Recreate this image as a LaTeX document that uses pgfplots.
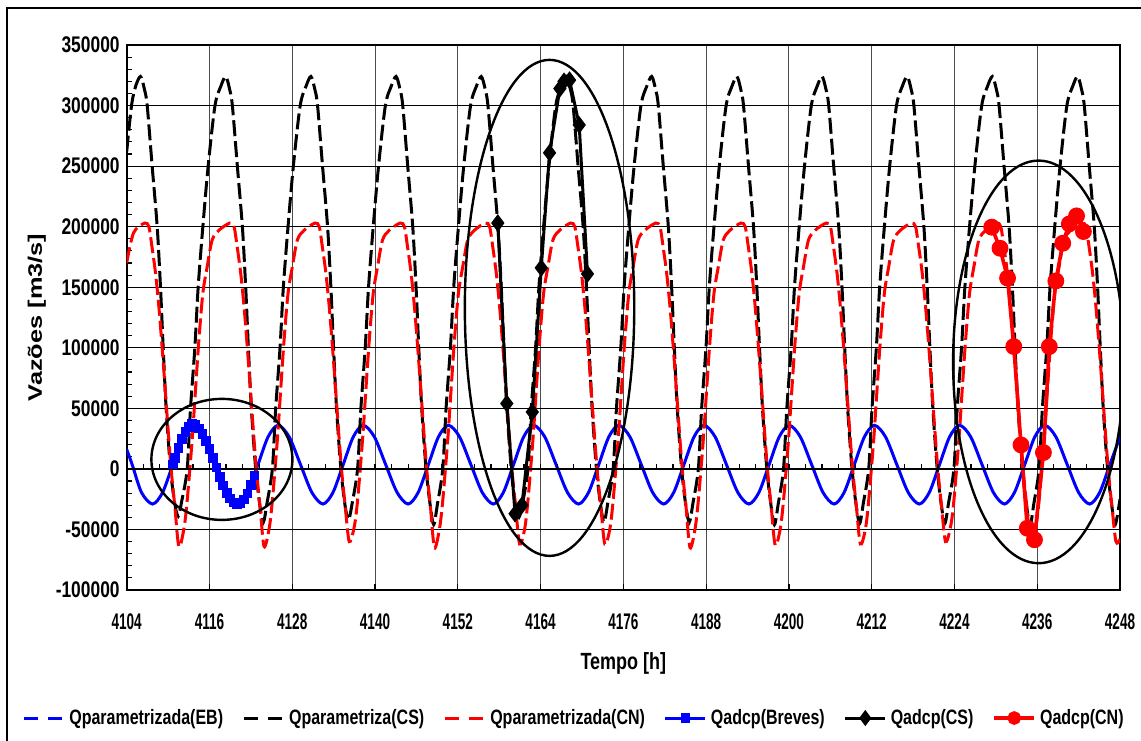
\documentclass[border=0pt]{standalone}
\usepackage{fontspec}
\setmainfont{Liberation Sans}
\usepackage{pgfplots}
\pgfplotsset{compat=1.18}
\definecolor{qblue}{RGB}{0,0,255}
\definecolor{qred}{RGB}{255,0,0}
\begin{document}
\begin{tikzpicture}
\useasboundingbox (0pt,0pt) rectangle (570.5pt,370pt);
\draw[line width=1pt] (3.5pt,-10pt) rectangle (580pt,366pt);
\begin{axis}[
  scale only axis, width=496.65pt, height=272.5pt,
  at={(63.35pt,75pt)}, anchor=south west,
  xmin=4104, xmax=4248, ymin=-100000, ymax=350000,
  xtick={4104,4116,...,4248},
  ytick={-100000,-50000,...,350000},
  minor y tick num=4,
  scaled y ticks=false, scaled x ticks=false,
  axis line style={line width=1pt},
  tick align=inside, major tick length=3pt, minor tick length=2.5pt,
  tick style={black, line width=0.6pt},
  ytick pos=left, xtick pos=bottom,
  xmajorgrids, ymajorgrids,
  every axis x grid/.style={gray!60!black, line width=0.5pt},
  every axis y grid/.style={black, line width=0.6pt},
  xticklabel style={font=\fontsize{8.7}{10}\selectfont\bfseries, anchor=center, yshift=-16pt},
  xticklabel={\scalebox{0.78}[1.3]{\pgfmathprintnumber[fixed,1000 sep={},assume math mode=true]{\tick}}},
  yticklabel style={font=\fontsize{8.7}{10}\selectfont\bfseries},
  yticklabel={\scalebox{1}[1.3]{\pgfmathprintnumber[fixed,precision=0,1000 sep={},assume math mode=true]{\tick}}},
  xlabel={\scalebox{1}[1.3]{Tempo [h]}},
  xlabel style={font=\fontsize{9}{10}\selectfont\bfseries, at={(axis description cs:0.5,-0.134)}, anchor=center},
  ylabel={\scalebox{1.3}[1]{Vazões [m3/s]}},
  ylabel style={font=\fontsize{9.75}{11}\selectfont\bfseries, at={(axis description cs:-0.0905,0.5)}, anchor=center},
  legend columns=6,
  legend cell align=left,
  legend style={at={(axis description cs:0.4513,-0.2349)}, anchor=center, draw=none, fill=none,
    font=\fontsize{8}{9}\selectfont\bfseries,
    /tikz/every even column/.append style={column sep=7.5pt}},
  legend image code/.code={\draw[mark repeat=2,mark phase=2,#1] plot coordinates {(0pt,0pt) (10pt,0pt) (20pt,0pt)};},
]
% Qparametrizada(EB)
\addplot[qblue, line width=1.5pt, smooth, forget plot] table {
4104.0 16000
4104.8 3500
4106.15 -19500
4107.75 -29000
4109.2 -19500
4110.68 3500
4112.15 26500
4113.6 36000
4115.2 26500
4116.85 3500
4118.5 -19500
4120.1 -29000
4121.55 -19500
4123.03 3500
4124.5 26500
4125.95 36000
4127.55 26500
4129.2 3500
4130.85 -19500
4132.45 -29000
4133.9 -19500
4135.38 3500
4136.85 26500
4138.3 36000
4139.9 26500
4141.55 3500
4143.2 -19500
4144.8 -29000
4146.25 -19500
4147.73 3500
4149.2 26500
4150.65 36000
4152.25 26500
4153.9 3500
4155.55 -19500
4157.15 -29000
4158.6 -19500
4160.08 3500
4161.55 26500
4163.0 36000
4164.6 26500
4166.25 3500
4167.9 -19500
4169.5 -29000
4170.95 -19500
4172.43 3500
4173.9 26500
4175.35 36000
4176.95 26500
4178.6 3500
4180.25 -19500
4181.85 -29000
4183.3 -19500
4184.78 3500
4186.25 26500
4187.7 36000
4189.3 26500
4190.95 3500
4192.6 -19500
4194.2 -29000
4195.65 -19500
4197.13 3500
4198.6 26500
4200.05 36000
4201.65 26500
4203.3 3500
4204.95 -19500
4206.55 -29000
4208.0 -19500
4209.48 3500
4210.95 26500
4212.4 36000
4214.0 26500
4215.65 3500
4217.3 -19500
4218.9 -29000
4220.35 -19500
4221.83 3500
4223.3 26500
4224.75 36000
4226.35 26500
4228.0 3500
4229.65 -19500
4231.25 -29000
4232.7 -19500
4234.18 3500
4235.65 26500
4237.1 36000
4238.7 26500
4240.35 3500
4242.0 -19500
4243.6 -29000
4245.05 -19500
4246.53 3500
4248.0 26500
};
% Qparametriza(CS)
\addplot[black, line width=1.5pt, dash pattern=on 8pt off 2.5pt, smooth, forget plot] table {
4104.0 262000
4104.7 300000
4105.3 316000
4106.0 324000
4106.55 314000
4106.97 300000
4107.69 250000
4108.42 200000
4108.9 150000
4109.29 100000
4109.72 50000
4110.35 0
4110.95 -28000
4111.46 -39000
4112.0 -26000
4112.77 0
4113.25 50000
4113.88 100000
4114.36 150000
4115.04 200000
4115.81 250000
4116.8 300000
4117.65 316000
4118.35 324000
4118.9 314000
4119.32 300000
4120.04 250000
4120.77 200000
4121.25 150000
4121.64 100000
4122.07 50000
4122.7 0
4123.3 -30000
4123.81 -44000
4124.35 -28000
4125.12 0
4125.6 50000
4126.23 100000
4126.71 150000
4127.39 200000
4128.16 250000
4129.15 300000
4130.0 316000
4130.7 324000
4131.25 314000
4131.67 300000
4132.39 250000
4133.12 200000
4133.6 150000
4133.99 100000
4134.42 50000
4135.05 0
4135.65 -30000
4136.16 -42000
4136.7 -28000
4137.47 0
4137.95 50000
4138.58 100000
4139.06 150000
4139.74 200000
4140.51 250000
4141.5 300000
4142.35 316000
4143.05 324000
4143.6 314000
4144.02 300000
4144.74 250000
4145.47 200000
4145.95 150000
4146.34 100000
4146.77 50000
4147.4 0
4148.0 -30000
4148.51 -46000
4149.05 -29000
4149.82 0
4150.3 50000
4150.93 100000
4151.41 150000
4152.09 200000
4152.86 250000
4153.85 300000
4154.7 316000
4155.4 324000
4155.95 314000
4156.37 300000
4157.09 250000
4157.82 200000
4158.3 150000
4158.69 100000
4159.12 50000
4159.75 0
4160.35 -30000
4160.86 -40000
4161.4 -28000
4162.17 0
4162.65 50000
4163.28 100000
4163.76 150000
4164.44 200000
4165.21 250000
4166.2 300000
4167.05 316000
4167.75 324000
4168.3 314000
4168.72 300000
4169.44 250000
4170.17 200000
4170.65 150000
4171.04 100000
4171.47 50000
4172.1 0
4172.7 -30000
4173.21 -44000
4173.75 -28000
4174.52 0
4175.0 50000
4175.63 100000
4176.11 150000
4176.79 200000
4177.56 250000
4178.55 300000
4179.4 316000
4180.1 324000
4180.65 314000
4181.07 300000
4181.79 250000
4182.52 200000
4183.0 150000
4183.39 100000
4183.82 50000
4184.45 0
4185.05 -30000
4185.56 -44000
4186.1 -28000
4186.87 0
4187.35 50000
4187.98 100000
4188.46 150000
4189.14 200000
4189.91 250000
4190.9 300000
4191.75 316000
4192.45 324000
4193.0 314000
4193.42 300000
4194.14 250000
4194.87 200000
4195.35 150000
4195.74 100000
4196.17 50000
4196.8 0
4197.4 -30000
4197.91 -46000
4198.45 -29000
4199.22 0
4199.7 50000
4200.33 100000
4200.81 150000
4201.49 200000
4202.26 250000
4203.25 300000
4204.1 316000
4204.8 324000
4205.35 314000
4205.77 300000
4206.49 250000
4207.22 200000
4207.7 150000
4208.09 100000
4208.52 50000
4209.15 0
4209.75 -30000
4210.26 -45000
4210.8 -28000
4211.57 0
4212.05 50000
4212.68 100000
4213.16 150000
4213.84 200000
4214.61 250000
4215.6 300000
4216.45 316000
4217.15 324000
4217.7 314000
4218.12 300000
4218.84 250000
4219.57 200000
4220.05 150000
4220.44 100000
4220.87 50000
4221.5 0
4222.1 -30000
4222.61 -45000
4223.15 -28000
4223.92 0
4224.4 50000
4225.03 100000
4225.51 150000
4226.19 200000
4226.96 250000
4227.95 300000
4228.8 316000
4229.5 324000
4230.05 314000
4230.47 300000
4231.19 250000
4231.92 200000
4232.4 150000
4232.79 100000
4233.22 50000
4233.85 0
4234.45 -30000
4234.96 -47000
4235.5 -29000
4236.27 0
4236.75 50000
4237.38 100000
4237.86 150000
4238.54 200000
4239.31 250000
4240.3 300000
4241.15 316000
4241.85 324000
4242.4 314000
4242.82 300000
4243.54 250000
4244.27 200000
4244.75 150000
4245.14 100000
4245.57 50000
4246.2 0
4246.8 -30000
4247.31 -46000
4248.0 -25000
};
% Qparametrizada(CN)
\addplot[qred, line width=1.5pt, dash pattern=on 8pt off 2.5pt, smooth, forget plot] table {
4104.0 170000
4105.0 195000
4106.6 203000
4107.21 200000
4107.6 186000
4108.17 162000
4108.66 134000
4109.14 100000
4109.63 62000
4110.11 24000
4110.5 -4000
4110.98 -31000
4111.56 -64000
4112.28 -50000
4112.77 -26000
4113.49 24000
4113.97 65000
4114.46 106000
4115.04 145000
4115.67 167000
4116.39 189000
4117.36 197000
4118.95 203000
4119.56 200000
4119.95 186000
4120.52 162000
4121.01 134000
4121.49 100000
4121.98 62000
4122.46 24000
4122.85 -4000
4123.33 -31000
4123.91 -64000
4124.63 -50000
4125.12 -26000
4125.84 24000
4126.32 65000
4126.81 106000
4127.39 145000
4128.02 167000
4128.74 189000
4129.71 197000
4131.3 203000
4131.91 200000
4132.3 186000
4132.87 162000
4133.36 134000
4133.84 100000
4134.33 62000
4134.81 24000
4135.2 -4000
4135.68 -31000
4136.26 -60000
4136.98 -48000
4137.47 -26000
4138.19 24000
4138.67 65000
4139.16 106000
4139.74 145000
4140.37 167000
4141.09 189000
4142.06 197000
4143.65 203000
4144.26 200000
4144.65 186000
4145.22 162000
4145.71 134000
4146.19 100000
4146.68 62000
4147.16 24000
4147.55 -4000
4148.03 -31000
4148.61 -65000
4149.33 -50000
4149.82 -26000
4150.54 24000
4151.02 65000
4151.51 106000
4152.09 145000
4152.72 167000
4153.44 189000
4154.41 197000
4156.0 203000
4156.61 200000
4157.0 186000
4157.57 162000
4158.06 134000
4158.54 100000
4159.03 62000
4159.51 24000
4159.9 -4000
4160.38 -31000
4160.96 -62000
4161.68 -50000
4162.17 -26000
4162.89 24000
4163.37 65000
4163.86 106000
4164.44 145000
4165.07 167000
4165.79 189000
4166.76 197000
4168.35 203000
4168.96 200000
4169.35 186000
4169.92 162000
4170.41 134000
4170.89 100000
4171.38 62000
4171.86 24000
4172.25 -4000
4172.73 -31000
4173.31 -62000
4174.03 -50000
4174.52 -26000
4175.24 24000
4175.72 65000
4176.21 106000
4176.79 145000
4177.42 167000
4178.14 189000
4179.11 197000
4180.7 203000
4181.31 200000
4181.7 186000
4182.27 162000
4182.76 134000
4183.24 100000
4183.73 62000
4184.21 24000
4184.6 -4000
4185.08 -31000
4185.66 -65000
4186.38 -50000
4186.87 -26000
4187.59 24000
4188.07 65000
4188.56 106000
4189.14 145000
4189.77 167000
4190.49 189000
4191.46 197000
4193.05 203000
4193.66 200000
4194.05 186000
4194.62 162000
4195.11 134000
4195.59 100000
4196.08 62000
4196.56 24000
4196.95 -4000
4197.43 -31000
4198.01 -63000
4198.73 -50000
4199.22 -26000
4199.94 24000
4200.42 65000
4200.91 106000
4201.49 145000
4202.12 167000
4202.84 189000
4203.81 197000
4205.4 203000
4206.01 200000
4206.4 186000
4206.97 162000
4207.46 134000
4207.94 100000
4208.43 62000
4208.91 24000
4209.3 -4000
4209.78 -31000
4210.36 -62000
4211.08 -50000
4211.57 -26000
4212.29 24000
4212.77 65000
4213.26 106000
4213.84 145000
4214.47 167000
4215.19 189000
4216.16 197000
4217.75 203000
4218.36 200000
4218.75 186000
4219.32 162000
4219.81 134000
4220.29 100000
4220.78 62000
4221.26 24000
4221.65 -4000
4222.13 -31000
4222.71 -60000
4223.43 -48000
4223.92 -26000
4224.64 24000
4225.12 65000
4225.61 106000
4226.19 145000
4226.82 167000
4227.54 189000
4228.51 197000
4230.1 203000
4230.71 200000
4231.1 186000
4231.67 162000
4232.16 134000
4232.64 100000
4233.13 62000
4233.61 24000
4234.0 -4000
4234.48 -31000
4235.06 -60000
4235.78 -48000
4236.27 -26000
4236.99 24000
4237.47 65000
4237.96 106000
4238.54 145000
4239.17 167000
4239.89 189000
4240.86 197000
4242.45 203000
4243.06 200000
4243.45 186000
4244.02 162000
4244.51 134000
4244.99 100000
4245.48 62000
4245.96 24000
4246.35 -4000
4246.83 -31000
4247.41 -60000
4248.0 -58000
};
% Qadcp(Breves)
\addplot[qblue, line width=2.4pt, smooth, mark=square*, mark size=1.2pt, forget plot] table {
4110.7 3500
4111.0 9200
4111.5 17400
4112.0 24700
4112.5 30500
4113.0 34500
4113.5 37500
4114.0 36500
4114.5 33500
4115.0 29000
4115.5 23200
4116.0 16500
4116.5 9000
4117.0 1100
4117.5 -6500
4118.0 -13600
4118.5 -19800
4119.0 -24500
4119.5 -27600
4120.0 -29000
4120.5 -28300
4121.0 -25300
4121.5 -20200
4122.0 -13500
4122.5 -5600
};
% Qadcp(CS)
\addplot[black, line width=1.5pt, mark=diamond*, mark size=3.2pt, forget plot] table {
4157.8 203000
4159.1 54000
4160.3 -37000
4161.3 -30000
4162.8 47000
4164.1 166000
4165.3 261000
4166.8 314000
4167.4 320000
4168.2 321000
4169.6 284000
4170.8 161000
};
% Qadcp(CN)
\addplot[qred, line width=1.8pt, mark=*, mark size=3.3pt, forget plot] table {
4229.4 199600
4230.6 182200
4231.7 157500
4232.6 101000
4233.65 19800
4234.56 -49000
4235.6 -58500
4236.9 13500
4237.75 101000
4238.7 155200
4239.7 186300
4240.65 202300
4241.7 208900
4242.7 196000
};
% zero line and its small ticks
\draw[line width=1.3pt] (axis cs:4104,0) -- (axis cs:4248,0);
\pgfplotsinvokeforeach{1,...,59}{\draw[line width=0.6pt] (axis cs:{4104+#1*2.4},0) -- ++(0pt,2.5pt);}
% annotation ellipses
\draw[line width=1.2pt] (axis cs:4117.8,7850) ellipse [x radius=35.25pt, y radius=30.25pt];
\draw[line width=1.2pt] (axis cs:4165.3,132950) ellipse [x radius=42.35pt, y radius=124pt];
\draw[line width=1.2pt] (axis cs:4236.2,88350) ellipse [x radius=42.75pt, y radius=100.65pt];
% legend
\addlegendimage{qblue, line width=1.5pt, dash pattern=on 7pt off 5pt}
\addlegendentry{\scalebox{1}[1.3]{Qparametrizada(EB)}}
\addlegendimage{black, line width=1.5pt, dash pattern=on 7pt off 5pt}
\addlegendentry{\scalebox{1}[1.3]{Qparametriza(CS)}}
\addlegendimage{qred, line width=1.5pt, dash pattern=on 7pt off 5pt}
\addlegendentry{\scalebox{1}[1.3]{Qparametrizada(CN)}}
\addlegendimage{qblue, line width=1.5pt, mark=square*, mark size=1.6pt}
\addlegendentry{\scalebox{1}[1.3]{Qadcp(Breves)}}
\addlegendimage{black, line width=1.5pt, mark=diamond*, mark size=2.8pt}
\addlegendentry{\scalebox{1}[1.3]{Qadcp(CS)}}
\addlegendimage{qred, line width=1.8pt, mark=*, mark size=2.5pt}
\addlegendentry{\scalebox{1}[1.3]{Qadcp(CN)}}
\end{axis}
\end{tikzpicture}
\end{document}
